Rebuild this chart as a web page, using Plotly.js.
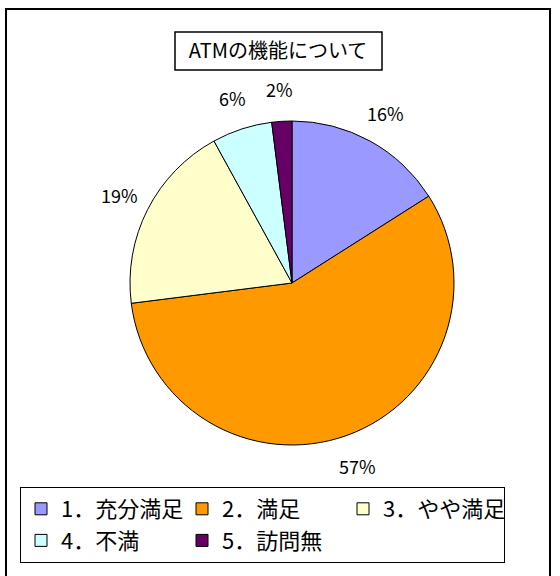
<!DOCTYPE html>
<html>
<head>
<meta charset="utf-8">
<script src="https://cdn.plot.ly/plotly-3.0.1.min.js"></script>
<style>html,body{margin:0;padding:0;background:#fff;}#chart{width:560px;height:576px;}</style>
</head>
<body>
<div id="chart"></div>
<script>
const chartTitle = "ATMの機能について";
const categories = ["1．充分満足", "2．満足", "3．やや満足", "4．不満", "5．訪問無"];
const percentages = [16, 57, 19, 6, 2];
const sliceColors = ["#9999FF", "#FF9900", "#FFFFCC", "#CCFFFF", "#660066"];

const W = 560, H = 576;
const font = "Noto Sans CJK JP, sans-serif";

// pie placement (pixels)
const CX = 292, CY = 283, R = 162, LABEL_R = 194;

const trace = {
  type: "pie",
  labels: categories,
  values: percentages,
  sort: false,
  direction: "clockwise",
  rotation: 0,
  marker: {colors: sliceColors, line: {color: "#000000", width: 1}},
  textinfo: "none",
  hoverinfo: "none",
  domain: {x: [(CX - R) / W, (CX + R) / W], y: [(H - CY - R) / H, (H - CY + R) / H]}
};

// percentage labels placed along each slice's mid-angle, derived from the data
const total = percentages.reduce((a, b) => a + b, 0);
let cum = 0;
const labelAnnotations = percentages.map(v => {
  const mid = (cum + v / 2) / total * 2 * Math.PI;
  cum += v;
  const px = CX + LABEL_R * Math.sin(mid);
  const py = CY - LABEL_R * Math.cos(mid);
  return {
    xref: "paper", yref: "paper",
    x: px / W, y: (H - py) / H,
    xanchor: "center", yanchor: "middle",
    text: Math.round(v / total * 100) + "%",
    showarrow: false,
    font: {family: font, size: 18, color: "#000000"}
  };
});

const layout = {
  width: W, height: H,
  margin: {l: 0, r: 0, t: 0, b: 0},
  paper_bgcolor: "#ffffff",
  showlegend: true,
  title: {
    text: chartTitle,
    font: {family: font, size: 20, color: "#000000"},
    x: 278 / W, xanchor: "center",
    y: (H - 51) / H, yanchor: "middle"
  },
  legend: {
    orientation: "h",
    x: 20 / W, xanchor: "left",
    y: (H - 487) / H, yanchor: "top",
    bordercolor: "#000000", borderwidth: 1,
    bgcolor: "#ffffff",
    entrywidth: 116, entrywidthmode: "pixels",
    font: {family: font, size: 22, color: "#000000"},
    traceorder: "normal"
  },
  annotations: labelAnnotations,
  shapes: [
    {type: "rect", xref: "paper", yref: "paper",
     x0: 6 / W, x1: 550 / W, y0: -0.05, y1: (H - 9) / H,
     line: {color: "#000000", width: 2}},
    {type: "rect", xref: "paper", yref: "paper",
     x0: 175 / W, x1: 382 / W, y0: (H - 70) / H, y1: (H - 32) / H,
     line: {color: "#000000", width: 1.5}}
  ]
};

Plotly.newPlot("chart", [trace], layout, {displayModeBar: false, staticPlot: true});
</script>
</body>
</html>
